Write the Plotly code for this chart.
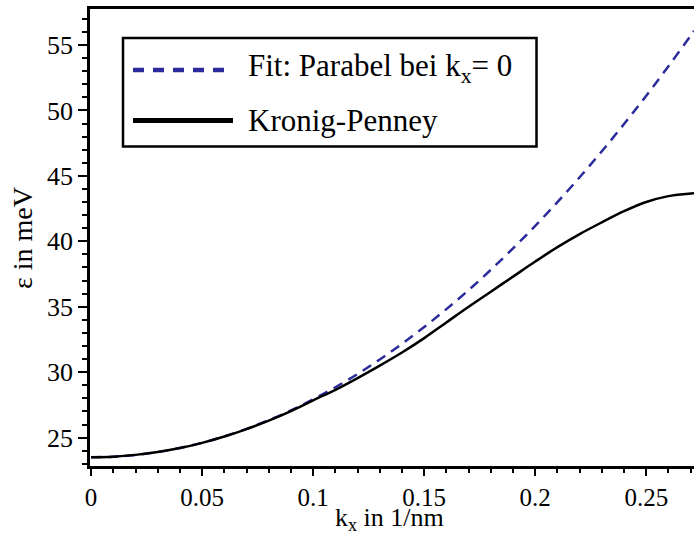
import plotly.graph_objects as go

# ---- data ----
k_values = [0.0, 0.01, 0.02, 0.03, 0.04, 0.05, 0.06, 0.07, 0.08, 0.09,
            0.10, 0.11, 0.12, 0.13, 0.14, 0.15, 0.16, 0.17, 0.18, 0.19,
            0.20, 0.21, 0.22, 0.23, 0.24, 0.25, 0.26, 0.27, 0.2715]
parabel_fit = [23.5, 23.54, 23.68, 23.9, 24.21, 24.6, 25.09, 25.67, 26.33, 27.08,
               27.92, 28.85, 29.86, 30.97, 32.16, 33.45, 34.82, 36.27, 37.82, 39.46,
               41.18, 42.99, 44.89, 46.88, 48.96, 51.13, 53.38, 55.72, 56.08]
kronig_penney = [23.5, 23.54, 23.68, 23.9, 24.2, 24.6, 25.08, 25.65, 26.3, 27.03,
                 27.85, 28.65, 29.55, 30.5, 31.5, 32.6, 33.8, 35.0, 36.15, 37.3,
                 38.45, 39.55, 40.55, 41.45, 42.3, 43.0, 43.45, 43.65, 43.68]

x_tickvals = [0, 0.05, 0.1, 0.15, 0.2, 0.25]
x_ticktext = ["0", "0.05", "0.1", "0.15", "0.2", "0.25"]
y_tickvals = [25, 30, 35, 40, 45, 50, 55]
y_ticktext = ["25", "30", "35", "40", "45", "50", "55"]

legend_labels = ["Fit: Parabel bei k<sub>x</sub>= 0", "Kronig-Penney"]
x_title = "k<sub>x</sub> in 1/nm"
y_title = "ε in meV"

BLUE = "#2b2b9b"
FONT = "Liberation Serif, Times New Roman, serif"

W, H = 694, 537
ML, MR, MT, MB = 90, 0, 9, 71
PW, PH = W - ML - MR, H - MT - MB


def px(xp):
    return (xp - ML) / PW


def py(yp):
    return (H - MB - yp) / PH


fig = go.Figure()
fig.add_trace(go.Scatter(x=k_values, y=parabel_fit, mode="lines", name=legend_labels[0],
                         line=dict(color=BLUE, width=2.5, dash="10px,7px", shape="spline"),
                         showlegend=False))
fig.add_trace(go.Scatter(x=k_values, y=kronig_penney, mode="lines", name=legend_labels[1],
                         line=dict(color="black", width=2.5, shape="spline"),
                         showlegend=False))

axis_common = dict(showline=True, linecolor="black", linewidth=2.5, ticks="outside",
                   tickwidth=2, tickcolor="black", showgrid=False, zeroline=False)

fig.update_xaxes(range=[-0.0005, 0.2715], tickvals=x_tickvals, ticktext=x_ticktext,
                 mirror=True, ticklen=7,
                 tickfont=dict(family=FONT, size=25, color="black"),
                 minor=dict(dtick=0.01, tick0=0, ticklen=4, tickwidth=2, ticks="outside",
                            tickcolor="black"),
                 **axis_common)
fig.update_yaxes(range=[22.83, 57.75], tickvals=y_tickvals, ticktext=y_ticktext,
                 ticklen=9,
                 tickfont=dict(family=FONT, size=26, color="black"),
                 minor=dict(dtick=1, tick0=0, ticklen=5, tickwidth=2, ticks="outside",
                            tickcolor="black"),
                 **axis_common)

# custom legend box
shapes = [
    dict(type="rect", xref="paper", yref="paper", x0=px(123), x1=px(536.5), y0=py(146.5), y1=py(38),
         line=dict(color="black", width=2.5), fillcolor="white", layer="above"),
    dict(type="line", xref="paper", yref="paper", x0=px(133), x1=px(230), y0=py(70), y1=py(70),
         line=dict(color=BLUE, width=4.5, dash="11px,9px"), layer="above"),
    dict(type="line", xref="paper", yref="paper", x0=px(133), x1=px(233), y0=py(120.5), y1=py(120.5),
         line=dict(color="black", width=5), layer="above"),
]
annotations = [
    dict(xref="paper", yref="paper", x=px(246), y=py(68), text=legend_labels[0], showarrow=False,
         xanchor="left", yanchor="middle", font=dict(family=FONT, size=31, color="black")),
    dict(xref="paper", yref="paper", x=px(246), y=py(120), text=legend_labels[1], showarrow=False,
         xanchor="left", yanchor="middle", font=dict(family=FONT, size=31, color="black")),
    # axis titles
    dict(xref="paper", yref="paper", x=px(389), y=py(537), text=x_title, showarrow=False,
         xanchor="center", yanchor="bottom", font=dict(family=FONT, size=26, color="black")),
    dict(xref="paper", yref="paper", x=px(22), y=py(238), text=y_title, showarrow=False,
         textangle=-90, xanchor="center", yanchor="middle",
         font=dict(family=FONT, size=28, color="black")),
]

fig.update_layout(width=W, height=H, margin=dict(l=ML, r=MR, t=MT, b=MB, pad=0),
                  plot_bgcolor="white", paper_bgcolor="white",
                  font=dict(family=FONT, color="black"),
                  shapes=shapes, annotations=annotations, showlegend=False)

fig.write_html("out.html")
